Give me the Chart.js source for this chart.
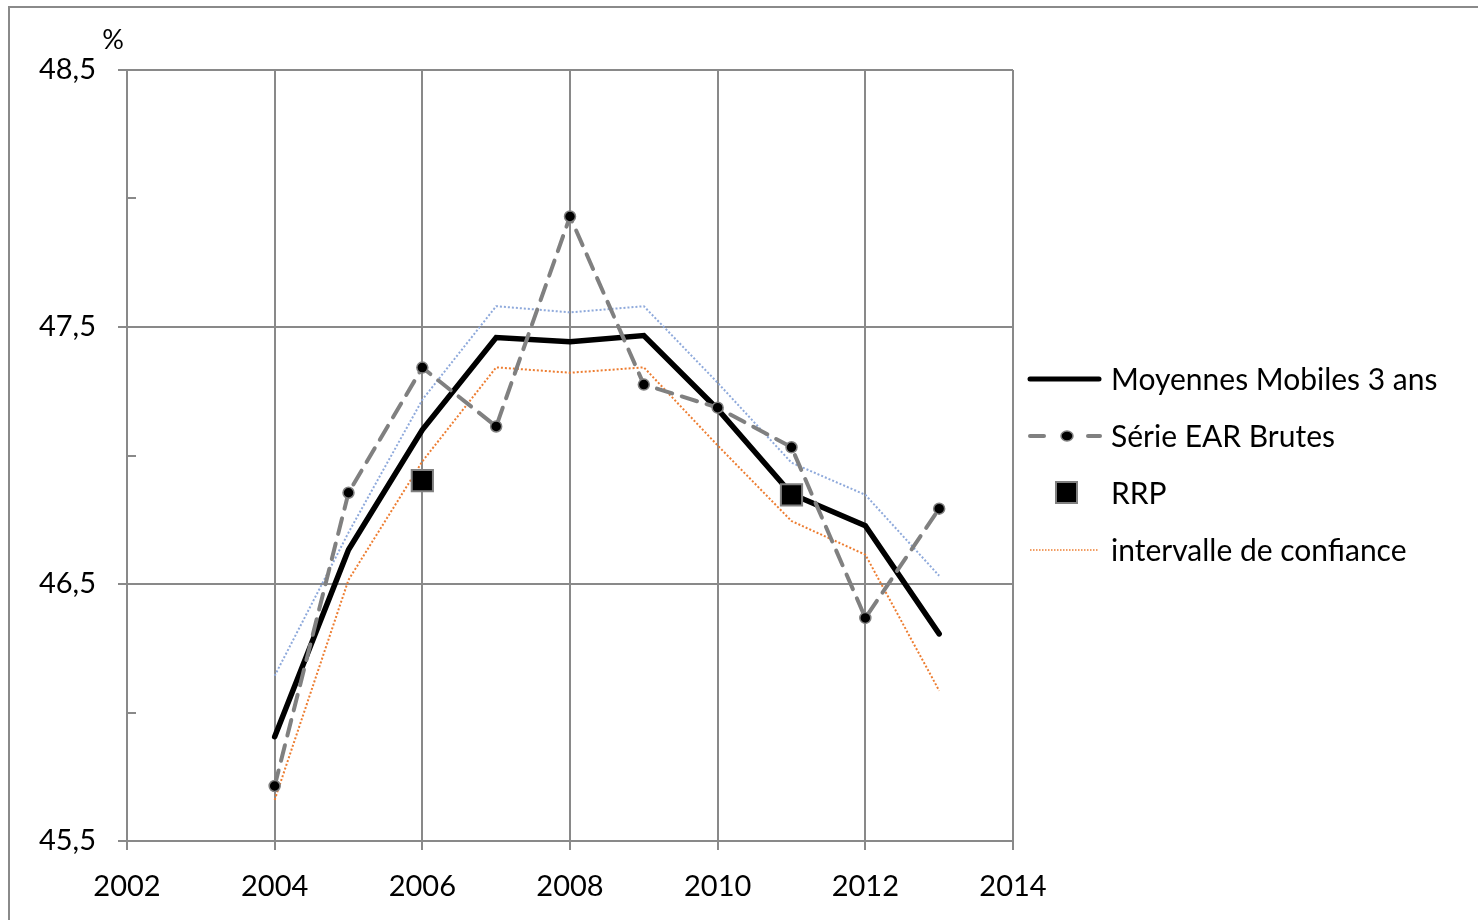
<!DOCTYPE html>
<html>
<head>
<meta charset="utf-8">
<script src="https://cdn.jsdelivr.net/npm/chart.js@4"></script>
<style>
  html, body { margin: 0; padding: 0; background: #ffffff; }
  #wrap { position: relative; width: 1478px; height: 920px; }
</style>
</head>
<body>
<div id="wrap"><canvas id="c" width="1478" height="920"></canvas></div>
<script>
// ---- Data ----
const years = [2004, 2005, 2006, 2007, 2008, 2009, 2010, 2011, 2012, 2013];
const moyennesMobiles = [45.906, 46.633, 47.100, 47.459, 47.443, 47.467, 47.180, 46.850, 46.727, 46.306];
const serieEAR = [45.714, 46.855, 47.342, 47.113, 47.930, 47.276, 47.186, 47.032, 46.368, 46.793];
const rrpYears = [2006, 2011];
const rrpValues = [46.902, 46.847];
const icHaut = [46.143, 46.700, 47.217, 47.581, 47.557, 47.581, 47.283, 46.972, 46.847, 46.532];
const icBas = [45.660, 46.516, 46.977, 47.343, 47.322, 47.343, 47.039, 46.745, 46.614, 46.085];
const xTicks = [2002, 2004, 2006, 2008, 2010, 2012, 2014];
const yMajorTicks = [45.5, 46.5, 47.5, 48.5];
const yMinorTicks = [46, 47, 48];
const legendLabels = ['Moyennes Mobiles 3 ans', 'Série EAR Brutes', 'RRP', 'intervalle de confiance'];
const unitLabel = '%';

const pts = (xs, ys) => xs.map((x, i) => ({ x: x, y: ys[i] }));

const GRID = '#898989';
const FONT = 'Lato, "Open Sans", sans-serif';

const extras = {
  id: 'extras',
  beforeDraw(chart) {
    const ctx = chart.ctx;
    ctx.save();
    ctx.strokeStyle = '#8a8a8a';
    ctx.lineWidth = 2;
    ctx.beginPath();
    ctx.moveTo(9, 930);
    ctx.lineTo(9, 7);
    ctx.lineTo(1490, 7);
    ctx.stroke();
    ctx.restore();
  },
  afterDraw(chart) {
    const ctx = chart.ctx;
    const a = chart.chartArea;
    const ys = chart.scales.y;
    ctx.save();
    // minor ticks inside the axis
    ctx.strokeStyle = GRID;
    ctx.lineWidth = 2;
    yMinorTicks.forEach(v => {
      const py = Math.round(ys.getPixelForValue(v));
      ctx.beginPath();
      ctx.moveTo(a.left, py);
      ctx.lineTo(a.left + 9, py);
      ctx.stroke();
    });
    // unit label
    ctx.fillStyle = '#000';
    ctx.font = '27px ' + FONT;
    ctx.textAlign = 'center';
    ctx.textBaseline = 'middle';
    ctx.fillText(unitLabel, a.left - 14, a.top - 30);

    // legend
    const lx0 = 1028, lx1 = 1101, tx = 1111;
    const rows = [379, 436, 493, 550];
    ctx.font = '30px ' + FONT;
    ctx.textAlign = 'left';
    ctx.textBaseline = 'middle';
    // 1 black solid
    ctx.strokeStyle = '#000';
    ctx.lineWidth = 5;
    ctx.lineCap = 'round';
    ctx.beginPath(); ctx.moveTo(lx0 + 2, rows[0]); ctx.lineTo(lx1 - 2, rows[0]); ctx.stroke();
    // 2 gray dashed with dot
    ctx.strokeStyle = '#808080';
    ctx.lineWidth = 4;
    ctx.lineCap = 'round';
    ctx.beginPath(); ctx.moveTo(lx0 + 2, rows[1]); ctx.lineTo(lx0 + 16, rows[1]); ctx.stroke();
    ctx.beginPath(); ctx.moveTo(lx1 - 13, rows[1]); ctx.lineTo(lx1 - 1, rows[1]); ctx.stroke();
    ctx.fillStyle = '#000';
    ctx.lineWidth = 1.5;
    ctx.beginPath(); ctx.ellipse(1067, rows[1], 6, 5, 0, 0, Math.PI * 2); ctx.fill(); ctx.stroke();
    // 3 square
    ctx.fillStyle = '#000';
    ctx.strokeStyle = '#808080';
    ctx.lineWidth = 2;
    ctx.fillRect(1056, rows[2] - 11, 21, 21);
    ctx.strokeRect(1056, rows[2] - 11, 21, 21);
    // 4 orange dotted
    ctx.strokeStyle = '#ED7D31';
    ctx.lineWidth = 1.5;
    ctx.lineCap = 'butt';
    ctx.setLineDash([1.5, 1.5]);
    ctx.beginPath(); ctx.moveTo(lx0 + 2, rows[3]); ctx.lineTo(lx1 - 2, rows[3]); ctx.stroke();
    ctx.setLineDash([]);
    ctx.fillStyle = '#000';
    legendLabels.forEach((t, i) => ctx.fillText(t, tx, rows[i] + 1));
    ctx.restore();
  }
};

new Chart(document.getElementById('c'), {
  type: 'scatter',
  data: {
    datasets: [
      {
        label: legendLabels[3] + ' (haut)',
        data: pts(years, icHaut),
        showLine: true,
        borderColor: '#8EA9DB',
        borderWidth: 2,
        borderDash: [2, 2],
        pointRadius: 0,
        order: 5
      },
      {
        label: legendLabels[3],
        data: pts(years, icBas),
        showLine: true,
        borderColor: '#ED7D31',
        borderWidth: 2,
        borderDash: [2, 2],
        pointRadius: 0,
        order: 4
      },
      {
        label: legendLabels[0],
        data: pts(years, moyennesMobiles),
        showLine: true,
        borderColor: '#000000',
        borderWidth: 5.5,
        borderCapStyle: 'round',
        borderJoinStyle: 'miter',
        pointRadius: 0,
        order: 3
      },
      {
        label: legendLabels[1],
        data: pts(years, serieEAR),
        showLine: true,
        borderColor: '#808080',
        borderWidth: 4,
        borderDash: [16, 10],
        borderCapStyle: 'round',
        pointRadius: 5.5,
        pointBackgroundColor: '#000000',
        pointBorderColor: '#808080',
        pointBorderWidth: 1.5,
        order: 2
      },
      {
        label: legendLabels[2],
        data: pts(rrpYears, rrpValues),
        showLine: false,
        pointStyle: 'rect',
        pointRadius: 15,
        pointBackgroundColor: '#000000',
        pointBorderColor: '#808080',
        pointBorderWidth: 2,
        order: 1
      }
    ]
  },
  options: {
    responsive: false,
    animation: false,
    events: [],
    layout: { padding: { left: 0, top: 70, right: 465, bottom: 0 } },
    plugins: { legend: { display: false }, tooltip: { enabled: false } },
    scales: {
      x: {
        type: 'linear',
        min: xTicks[0],
        max: xTicks[xTicks.length - 1],
        afterBuildTicks: s => { s.ticks = xTicks.map(v => ({ value: v })); },
        afterFit: s => { s.height = 79; },
        ticks: {
          color: '#000',
          font: { family: FONT, size: 29 },
          padding: 19,
          maxRotation: 0,
          callback: v => String(v)
        },
        grid: { color: GRID, lineWidth: 2, tickLength: 9, tickColor: GRID },
        border: { color: GRID, width: 2 }
      },
      y: {
        min: yMajorTicks[0],
        max: yMajorTicks[yMajorTicks.length - 1],
        afterBuildTicks: s => { s.ticks = yMajorTicks.map(v => ({ value: v })); },
        afterFit: s => { s.width = 127; },
        ticks: {
          color: '#000',
          font: { family: FONT, size: 29 },
          padding: 22,
          callback: v => v.toFixed(1).replace('.', ',')
        },
        grid: { color: GRID, lineWidth: 2, tickLength: 9, tickColor: GRID },
        border: { color: GRID, width: 2 }
      }
    }
  },
  plugins: [extras]
});
</script>
</body>
</html>
